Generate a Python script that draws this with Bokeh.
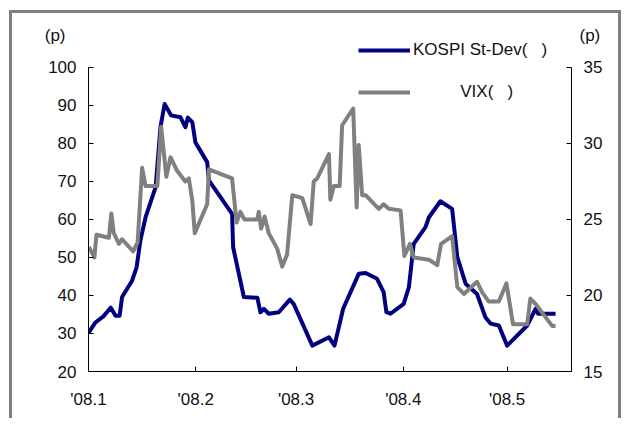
from bokeh.plotting import figure
from bokeh.layouts import column
from bokeh.models import Range1d, LinearAxis, FixedTicker, Legend, LegendItem
from bokeh.embed import file_html
from bokeh.resources import INLINE

# days since 2008-01-01
kospi_day = [0.1, 2.0, 4.3, 6.4, 7.8, 9.0, 9.7, 12.6, 13.9, 15.0, 16.5, 19.4, 20.8, 22.0,
             23.9, 26.6, 28.0, 28.7, 30.0, 30.9, 34.3, 34.8, 41.5, 41.8, 44.9, 48.8, 49.7,
             50.7, 52.1, 55.0, 58.2, 59.3, 64.7, 69.5, 71.1, 73.6, 78.1, 80.1, 83.4, 85.3,
             86.1, 87.3, 91.1, 92.6, 94.0, 97.4, 98.4, 101.7, 105.1, 106.6, 109.0, 112.3,
             114.7, 116.2, 118.6, 121.0, 126.8, 129.2, 129.9, 135.0]
kospi_val = [30.3, 32.9, 34.5, 36.8, 34.7, 34.7, 39.6, 43.9, 47.4, 54.5, 60.6, 68.5, 84.3, 90.4,
             87.4, 86.9, 84.3, 86.8, 85.6, 80.3, 75.1, 70.3, 61.5, 52.7, 39.6, 39.4, 35.6,
             36.5, 35.2, 35.6, 38.9, 37.8, 26.8, 29.0, 26.8, 36.5, 45.7, 45.9, 44.4, 40.9,
             35.6, 35.2, 37.8, 42.2, 53.6, 58.0, 60.6, 64.8, 62.8, 50.1, 43.1, 40.4,
             34.3, 32.6, 32.1, 26.8, 32.1, 36.5, 35.2, 35.2]

vix_day = [0.1, 1.7, 2.3, 5.9, 6.6, 7.3, 8.8, 9.7, 12.9, 14.2, 15.5, 16.5, 19.9, 21.0, 22.5,
           23.7, 25.6, 28.0, 29.0, 30.0, 30.7, 34.3, 34.8, 41.5, 42.8, 43.9, 45.1, 48.8, 49.2,
           49.9, 50.9, 52.1, 54.5, 56.0, 57.4, 58.9, 61.8, 64.2, 65.1, 66.1, 69.5, 69.9, 70.9,
           72.6, 73.3, 76.5, 77.5, 78.1, 79.1, 80.1, 83.9, 85.3, 86.8, 90.2, 91.3, 92.9, 94.0,
           98.4, 100.8, 101.9, 105.1, 106.6, 108.5, 112.3, 113.8, 115.7, 118.6, 120.8, 122.7,
           126.8, 127.7, 129.2, 134.0, 135.0]
vix_val = [23.2, 22.5, 24.0, 23.8, 25.4, 24.1, 23.4, 23.7, 22.9, 23.5, 28.4, 27.2, 27.2, 31.1, 27.8,
           29.1, 28.2, 27.5, 27.7, 26.25, 24.1, 26.0, 28.3, 27.7, 24.8, 25.5, 25.0, 25.0, 25.5,
           24.4, 25.2, 24.1, 23.1, 21.9, 22.7, 26.6, 26.4, 24.7, 27.5, 27.7, 29.3, 26.3, 27.2,
           27.2, 31.2, 32.3, 25.8, 29.9, 26.6, 26.6, 25.7, 26.0, 25.7, 25.6, 22.6, 23.4, 22.5,
           22.35, 22.0, 23.4, 23.9, 20.55, 20.1, 20.9, 20.2, 19.6, 19.6, 20.8, 18.1,
           18.1, 19.8, 19.45, 18.0, 18.0]

month_ticks = [0, 31, 60, 91, 121]
month_labels = ["'08.1", "'08.2", "'08.3", "'08.4", "'08.5"]
left_ticks = [20, 30, 40, 50, 60, 70, 80, 90, 100]
right_ticks = [15, 20, 25, 30, 35]
legend_labels = ["KOSPI St-Dev(\u00a0\u00a0\u00a0)", "\u00a0" * 10 + "VIX(\u00a0\u00a0\u00a0)"]
unit_label = "(p)"
left_unit_pos = 108.5    # left-axis value where the "(p)" unit sits
right_unit_pos = 37.1    # right-axis value where the "(p)" unit sits

FONT = "Liberation Sans"
FS = "17px"
NAVY = "#000080"
GRAY = "#808080"

# left scale 20..100 ; frame extended upward to hold legend and unit labels
p = figure(width=606, height=405, output_backend="svg", toolbar_location=None,
           x_range=Range1d(0, 139.6), y_range=Range1d(20, 114.21),
           min_border_left=76, min_border_right=47, min_border_top=0, min_border_bottom=47,
           x_axis_location=None, y_axis_location=None)
p.outline_line_color = None
p.grid.visible = False
p.background_fill_color = "white"
p.border_fill_color = "white"
p.extra_y_ranges = {"right": Range1d(15, 38.55)}

def style_axis(ax):
    ax.axis_line_color = "black"
    ax.axis_line_width = 1
    ax.major_tick_line_color = "black"
    ax.major_tick_in = 5
    ax.major_tick_out = 0
    ax.minor_tick_line_color = None
    ax.major_label_text_font = FONT
    ax.major_label_text_font_size = FS
    ax.major_label_text_color = "#111111"

xaxis = LinearAxis(ticker=FixedTicker(ticks=month_ticks),
                   major_label_overrides={t: l for t, l in zip(month_ticks, month_labels)})
style_axis(xaxis)
xaxis.major_label_standoff = 18
p.add_layout(xaxis, "below")

yl = LinearAxis(ticker=FixedTicker(ticks=left_ticks), bounds=(20, 100))
style_axis(yl)
yl.major_label_standoff = 12
p.add_layout(yl, "left")

yr = LinearAxis(y_range_name="right", ticker=FixedTicker(ticks=right_ticks), bounds=(15, 35))
style_axis(yr)
yr.major_label_standoff = 12
p.add_layout(yr, "right")

# unit labels "(p)" above each axis
yl_unit = LinearAxis(ticker=FixedTicker(ticks=[left_unit_pos]),
                     major_label_overrides={left_unit_pos: unit_label})
style_axis(yl_unit)
yl_unit.axis_line_color = None
yl_unit.major_tick_line_color = None
yl_unit.major_label_standoff = -20
p.add_layout(yl_unit, "left")

yr_unit = LinearAxis(y_range_name="right", ticker=FixedTicker(ticks=[right_unit_pos]),
                     major_label_overrides={right_unit_pos: unit_label})
style_axis(yr_unit)
yr_unit.axis_line_color = None
yr_unit.major_tick_line_color = None
yr_unit.major_label_standoff = -26
p.add_layout(yr_unit, "right")

r1 = p.line(kospi_day, kospi_val, line_color=NAVY, line_width=4, line_join="round")
r2 = p.line(vix_day, vix_val, line_color=GRAY, line_width=4, line_join="round",
            y_range_name="right")

legend = Legend(items=[LegendItem(label=legend_labels[0], renderers=[r1]),
                       LegendItem(label=legend_labels[1], renderers=[r2])],
                location=(270, 269), glyph_width=52, glyph_height=20, label_height=20,
                spacing=22, padding=0, margin=0, label_standoff=3,
                border_line_color=None, background_fill_alpha=0,
                label_text_font=FONT, label_text_font_size=FS, label_text_color="#111111")
p.add_layout(legend, "center")

inner = column(p, styles={"border-left": "3px solid #808080", "border-top": "3px solid #808080",
                          "border-right": "3px solid #808080"})
outer = column(inner, styles={"padding-left": "9px", "padding-top": "10px"})

open("out.html", "w").write(file_html(outer, INLINE))
